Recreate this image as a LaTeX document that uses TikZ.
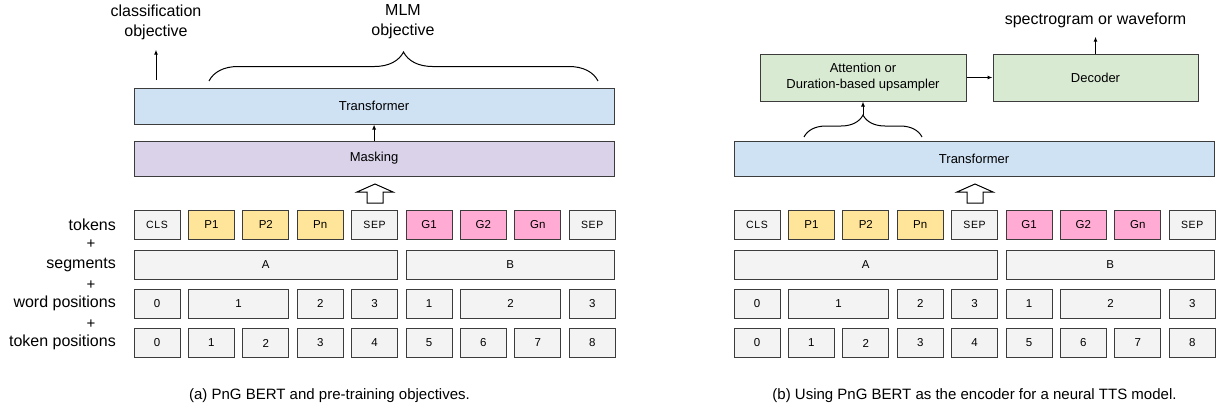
\documentclass[tikz,border=0pt]{standalone}
\usepackage{fontspec}
\setmainfont{Liberation Sans}
\usetikzlibrary{arrows.meta,decorations.pathreplacing}

\definecolor{cellgray}{HTML}{F3F3F3}
\definecolor{phonyellow}{HTML}{FFE599}
\definecolor{graphpink}{HTML}{FFABD3}
\definecolor{tfblue}{HTML}{CFE2F3}
\definecolor{masklilac}{HTML}{D9D2E9}
\definecolor{ttsgreen}{HTML}{D9EAD3}
\definecolor{edgegray}{HTML}{3C3C3C}
\newcommand{\tagfont}{\fontsize{10.5}{12}\selectfont\addfontfeatures{LetterSpace=6}}

\begin{document}
\begin{tikzpicture}[x=1pt,y=-1pt,
  cell/.style={draw=edgegray,line width=1pt,fill=cellgray,minimum width=46pt,minimum height=29pt,inner sep=0pt,font=\fontsize{11.5}{13}\selectfont},
  stack/.style={draw=edgegray,line width=1pt,minimum width=480pt,minimum height=35pt,inner sep=0pt,font=\fontsize{13}{15}\selectfont},
  ttsbox/.style={draw=edgegray,line width=1pt,fill=ttsgreen,minimum width=206pt,minimum height=47pt,inner sep=0pt,align=center,font=\fontsize{13}{16}\selectfont},
  rowlabel/.style={anchor=east,inner sep=0pt,font=\fontsize{16}{19}\selectfont},
  plussign/.style={inner sep=0pt,font=\fontsize{15}{18}\selectfont},
  headline/.style={align=center,inner sep=0pt,font=\fontsize{16}{20}\selectfont},
  subcap/.style={inner sep=0pt,font=\fontsize{15}{18}\selectfont},
  arr/.style={-{Latex[length=5pt,width=4pt]},line width=1pt},
  curly/.style={decorate,line width=1pt,decoration={brace,amplitude=#1}},
  hollow/.style={draw=black,line width=1pt,fill=white,line join=miter}]
\useasboundingbox (0,0) rectangle (1217,407);

% input rows, same for both panels
\foreach \p/\dx in {a/0,b/600}{
  \foreach \t/\f [count=\i from 0] in {{\tagfont CLS}/cellgray,P1/phonyellow,P2/phonyellow,Pn/phonyellow,{\tagfont SEP}/cellgray,G1/graphpink,G2/graphpink,Gn/graphpink,{\tagfont SEP}/cellgray}
    \node[cell,fill=\f] (\p-tok\i) at (\dx+157+54.4*\i,224.5) {\t};
  \node[cell,minimum width=263.6pt] (\p-segA) at (\dx+265.8,264.5) {A};
  \node[cell,minimum width=208.2pt] (\p-segB) at (\dx+510.1,264.5) {B};
  \foreach \c/\w/\n [count=\j] in {157/46/0,238.6/100.4/1,320.2/46/2,374.6/46/3,429/46/1,510.6/100.4/2,592.2/46/3}
    \node[cell,minimum width=\w pt] (\p-word\j) at (\dx+\c,303.5) {\n};
  \foreach \i in {0,...,8}
    \node[cell] (\p-pos\i) at (\dx+157+54.4*\i,343) {\i};
  % block arrow into the stack
  \draw[hollow] (\dx+367,203) -- (\dx+367,192) -- (\dx+357,192) -- (\dx+375,184)
    -- (\dx+393,192) -- (\dx+383,192) -- (\dx+383,203) -- cycle;
}

% row labels
\node[rowlabel] (l-tok) at (116,224.5) {tokens};
\node[rowlabel] (l-seg) at (116,264.5) {segments};
\node[rowlabel] (l-word) at (116,303.5) {word positions};
\node[rowlabel] (l-pos) at (116,342) {token positions};
\node[plussign] (l-plus1) at (91,244) {+};
\node[plussign] (l-plus2) at (91,285) {+};
\node[plussign] (l-plus3) at (91,324) {+};

% (a) pre-training
\node[stack,fill=tfblue,minimum height=36pt] (a-trans) at (374.1,106) {Transformer};
\node[stack,fill=masklilac] (a-mask) at (374.1,158.5) {Masking};
\draw[arr] (a-mask) -- (a-trans);
\node[headline] (a-clsobj) at (156,22) {classification\\objective};
\coordinate (a-clsfoot) at (156,80);
\draw[arr,shorten >=10pt] (a-clsfoot) -- (a-clsobj);
\node[headline] (a-mlm) at (403,22) {MLM\\objective};
\coordinate (a-mlmL) at (209,81);
\coordinate (a-mlmR) at (598,81);
\draw[curly=29pt] (a-mlmL) -- (a-mlmR);

% (b) TTS encoder
\node[stack,fill=tfblue] (b-trans) at (974.1,159) {Transformer};
\node[ttsbox] (b-att) at (863,77.5) {Attention or\\Duration-based upsampler};
\node[ttsbox,minimum width=205pt] (b-dec) at (1095.5,77.5) {Decoder};
\draw[arr] (b-att) -- (b-dec);
\node[headline] (b-spec) at (1095.5,20) {spectrogram or waveform};
\draw[arr,shorten >=9pt] (b-dec.north) -- (b-spec.south);
\coordinate (b-encL) at (804,137);
\coordinate (b-encR) at (922,137);
\draw[curly=22pt] (b-encL) -- (b-encR);
\coordinate (b-enctip) at (863,115);
\draw[arr] (b-enctip) -- (b-att);

% captions
\node[subcap] (a-cap) at (329.5,396) {(a) PnG BERT and pre-training objectives.};
\node[subcap] (b-cap) at (974.5,396) {(b) Using PnG BERT as the encoder for a neural TTS model.};
\end{tikzpicture}
\end{document}
